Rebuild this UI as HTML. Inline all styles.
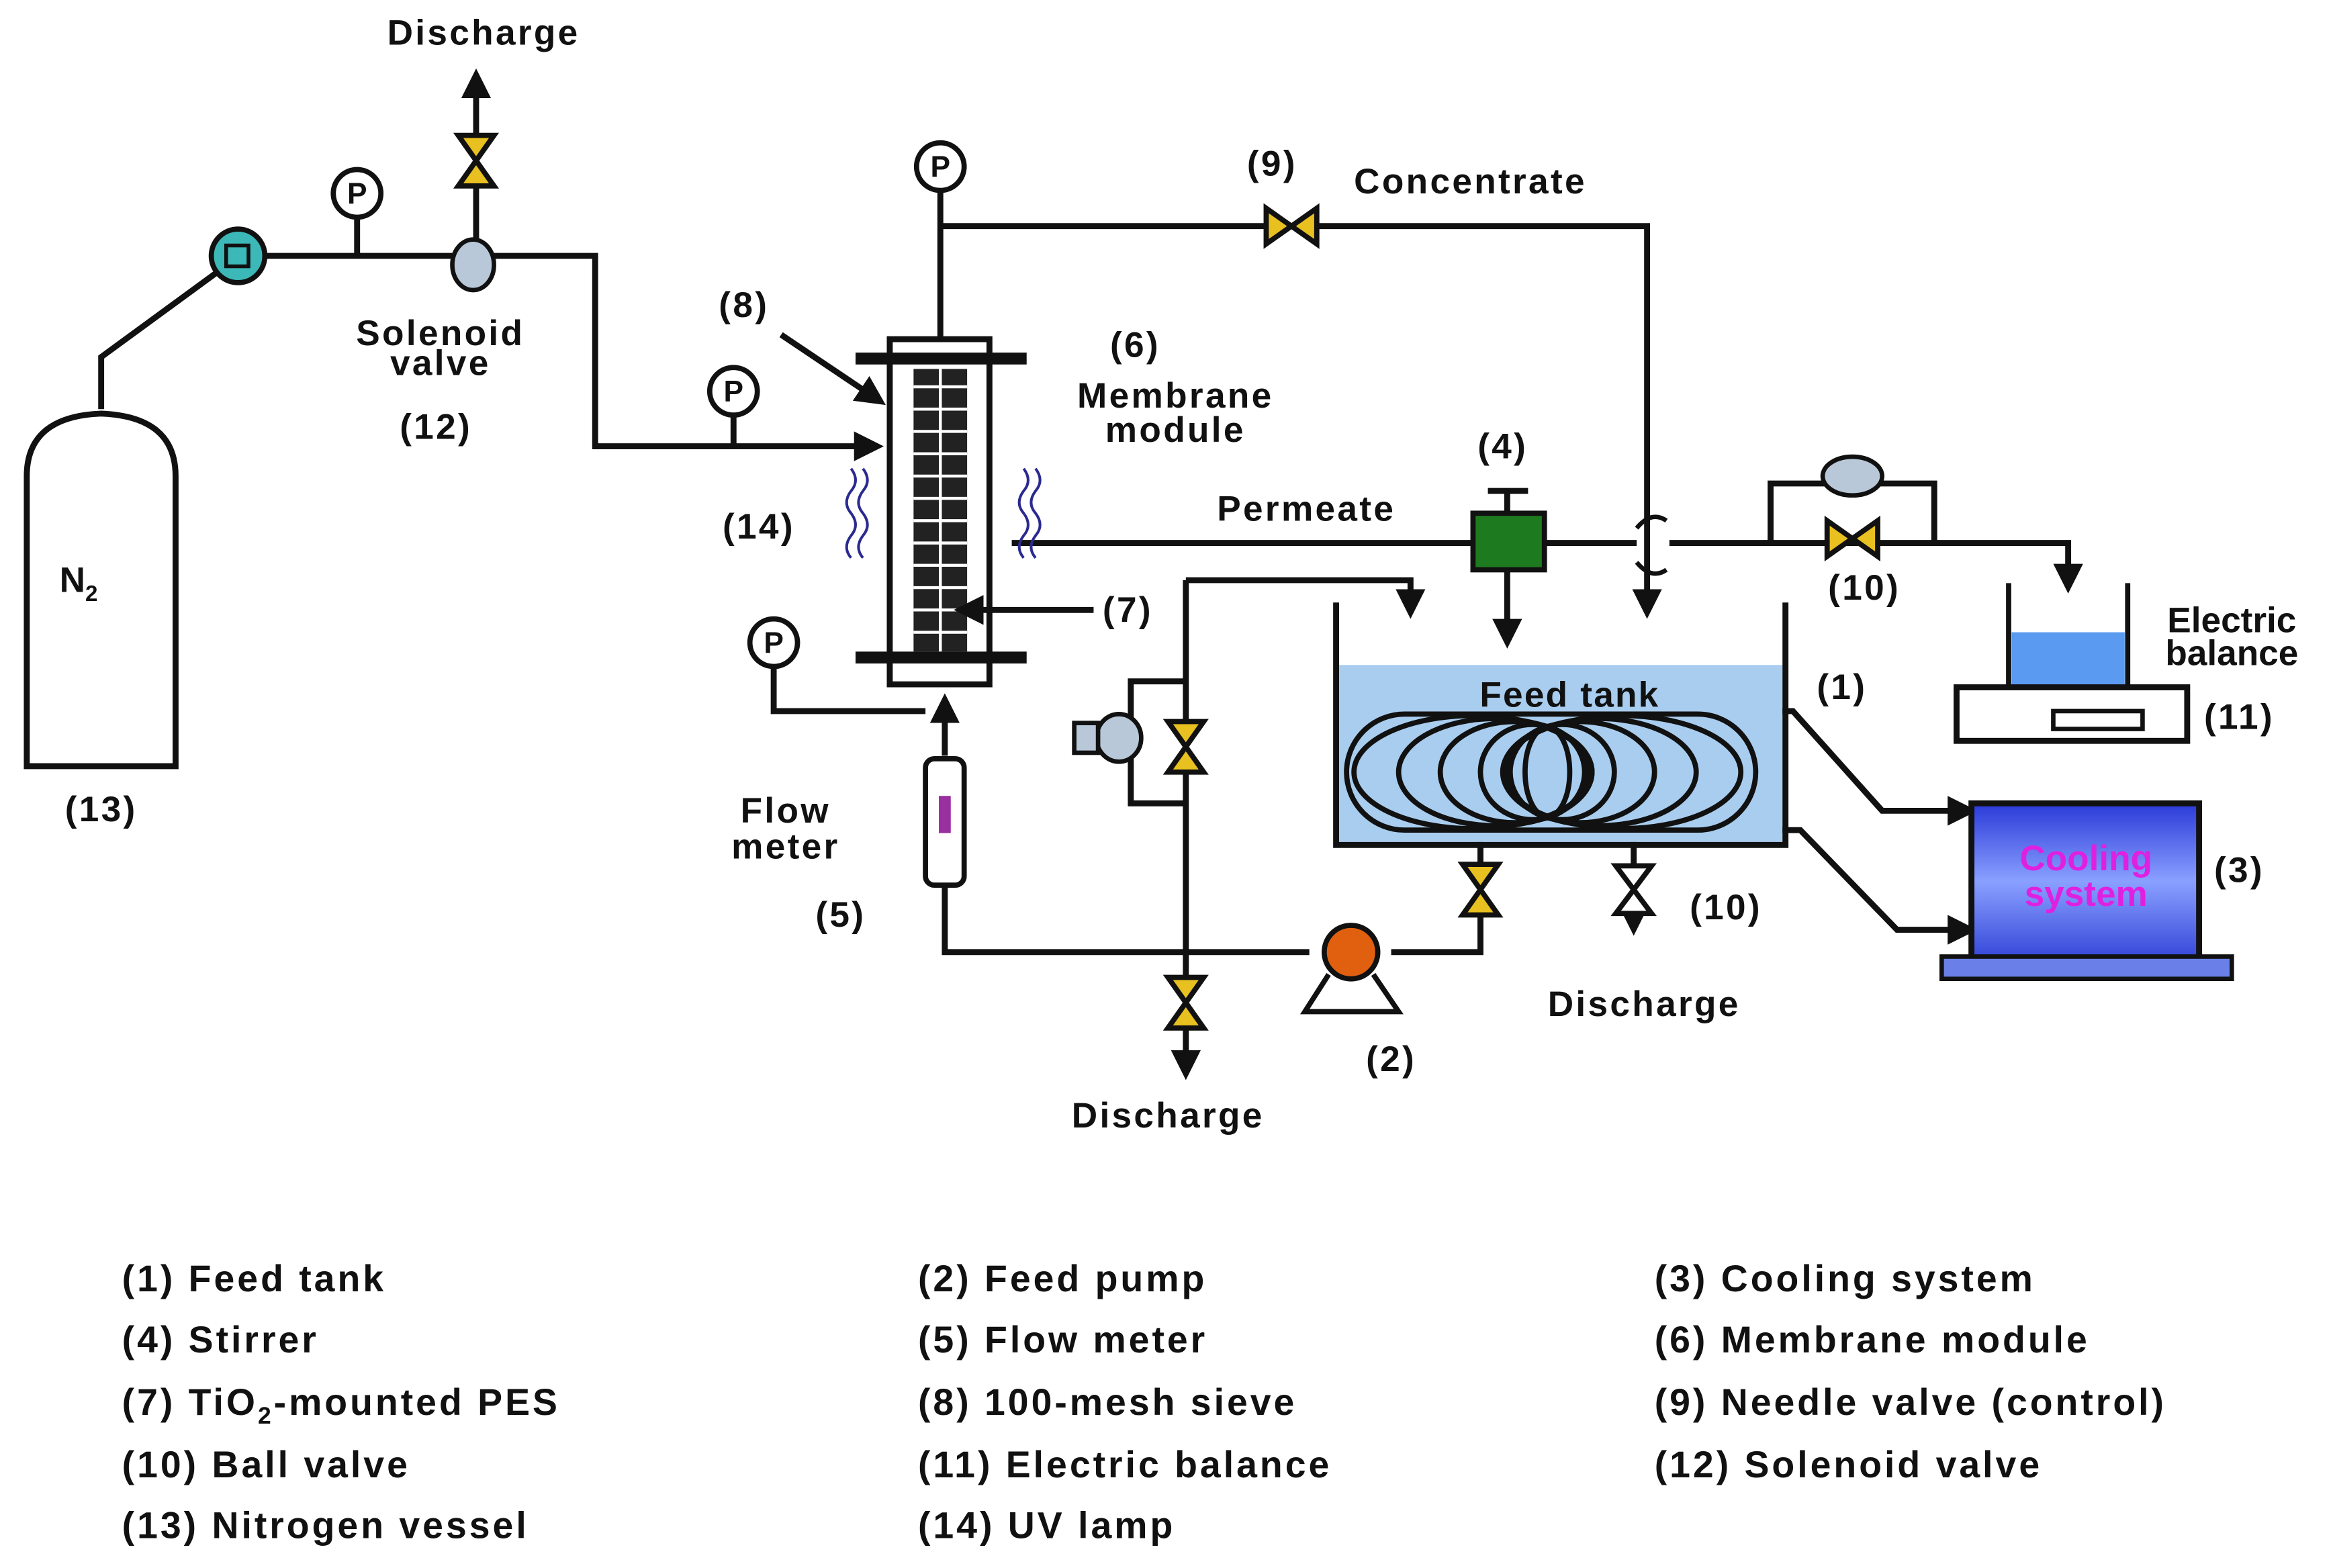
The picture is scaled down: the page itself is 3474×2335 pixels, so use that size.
<!DOCTYPE html>
<html><head><meta charset="utf-8"><style>
html,body{margin:0;padding:0;background:#fff}
svg{display:block}
text{font-family:"Liberation Sans",sans-serif;font-weight:bold;fill:#111}
</style></head><body>
<svg width="3474" height="2335" viewBox="0 0 1568 1054" preserveAspectRatio="none" xmlns="http://www.w3.org/2000/svg">
<defs>
<marker id="ah" viewBox="0 0 10 10" refX="8" refY="5" markerWidth="5" markerHeight="5" orient="auto"><path d="M0,0 L10,5 L0,10 z" fill="#111"/></marker>
<linearGradient id="cg" x1="0" y1="0" x2="0" y2="1"><stop offset="0" stop-color="#2a3ad8"/><stop offset="0.5" stop-color="#8aa0ff"/><stop offset="1" stop-color="#3446d8"/></linearGradient>
<g id="vv"><path d="M-12,-17 L12,-17 L0,0 Z M-12,17 L12,17 L0,0 Z" fill="#e8c020" stroke="#111" stroke-width="3.5"/></g>
<g id="vh"><path d="M-17,-12 L-17,12 L0,0 Z M17,-12 L17,12 L0,0 Z" fill="#e8c020" stroke="#111" stroke-width="3.5"/></g>
<g id="pg"><circle r="16" fill="#fff" stroke="#111" stroke-width="3.5"/><text x="0" y="7" font-size="20" text-anchor="middle" font-weight="normal">P</text></g>
</defs>
<g fill="none" stroke="#111" stroke-width="4">
<path d="M68,275 L68,240 L150,180"/>
<path d="M178,172 L400,172 L400,300 L590,300" marker-end="url(#ah)"/>
<path d="M240,146 L240,172 M493,279 L493,300"/>
<path d="M320,160 L320,50" marker-end="url(#ah)"/>
<path d="M632,128 L632,228 M632,152 L1107,152 L1107,412" marker-end="url(#ah)"/>
<path d="M680,365 L1100,365 M1122,365 L1390,365 L1390,395" marker-end="url(#ah)"/>
<path d="M1013,383 L1013,432" marker-end="url(#ah)"/>
<path d="M1013,345 L1013,330 M1000,330 L1027,330"/>
<path d="M1190,365 L1190,325 L1300,325 L1300,365"/>
<path d="M525,225 L592,270" marker-end="url(#ah)"/>
<path d="M520,448 L520,478 L622,478"/>
<path d="M635,508 L635,470" marker-end="url(#ah)"/>
<path d="M635,595 L635,640 L880,640 M935,640 L995,640 L995,565"/>
<path d="M797,390 L948,390 L948,412" marker-end="url(#ah)"/>
<path d="M797,390 L797,722" marker-end="url(#ah)"/>
<path d="M797,458 L760,458 L760,540 L797,540"/>
<path d="M1098,565 L1098,625" marker-end="url(#ah)"/>
<path d="M1180,478 L1205,478 L1265,545 L1325,545" marker-end="url(#ah)"/>
<path d="M1180,558 L1210,558 L1275,625 L1325,625" marker-end="url(#ah)"/>
</g>
<rect x="900" y="447" width="298" height="119" fill="#a9cdef"/>
<path d="M898,405 L898,568 L1200,568 L1200,405" fill="none" stroke="#111" stroke-width="4"/>
<g fill="none" stroke="#111" stroke-width="3.5">
<rect x="905" y="480" width="275" height="78" rx="39"/>
<ellipse cx="990" cy="519" rx="80" ry="38"/><ellipse cx="1005" cy="519" rx="65" ry="36"/><ellipse cx="1018" cy="519" rx="50" ry="34"/><ellipse cx="1030" cy="519" rx="35" ry="32"/>
<ellipse cx="1090" cy="519" rx="80" ry="38"/><ellipse cx="1075" cy="519" rx="65" ry="36"/><ellipse cx="1062" cy="519" rx="50" ry="34"/><ellipse cx="1050" cy="519" rx="35" ry="32"/>
<ellipse cx="1040" cy="519" rx="15" ry="30"/>
</g>
<text x="1055" y="475" font-size="24" text-anchor="middle" letter-spacing="1">Feed tank</text>
<path d="M18,515 L18,320 Q18,280 68,278 Q118,280 118,320 L118,515 Z" fill="#fff" stroke="#111" stroke-width="4"/>
<text x="40" y="398" font-size="24">N<tspan font-size="15" dy="6">2</tspan></text>
<circle cx="160" cy="172" r="18" fill="#3cb8b8" stroke="#111" stroke-width="3.5"/>
<rect x="152" y="165" width="15" height="14" fill="#3cb8b8" stroke="#111" stroke-width="2.5"/>
<use href="#pg" x="240" y="130"/><use href="#pg" x="493" y="263"/><use href="#pg" x="632" y="112"/><use href="#pg" x="520" y="432"/>
<use href="#vv" x="320" y="108"/>
<ellipse cx="318" cy="178" rx="14" ry="17" fill="#b8c8d8" stroke="#111" stroke-width="3"/>
<rect x="598" y="228" width="67" height="232" fill="#fff" stroke="#111" stroke-width="4"/>
<rect x="614" y="248" width="36" height="190" fill="#222"/>
<g stroke="#fff" stroke-width="2">
<path d="M614,260 H650 M614,275 H650 M614,290 H650 M614,305 H650 M614,320 H650 M614,335 H650 M614,350 H650 M614,365 H650 M614,380 H650 M614,395 H650 M614,410 H650 M614,425 H650 M632,248 V438"/>
</g>
<rect x="575" y="237" width="115" height="8" fill="#111"/>
<rect x="575" y="438" width="115" height="8" fill="#111"/>
<path d="M735,410 L645,410" fill="none" stroke="#111" stroke-width="4" marker-end="url(#ah)"/>
<g fill="none" stroke="#2a2a90" stroke-width="1.8">
<path d="M572,315 q6,8 0,15 q-6,8 0,15 q6,8 0,15 q-6,8 0,15"/><path d="M580,315 q6,8 0,15 q-6,8 0,15 q6,8 0,15 q-6,8 0,15"/>
<path d="M688,315 q6,8 0,15 q-6,8 0,15 q6,8 0,15 q-6,8 0,15"/><path d="M696,315 q6,8 0,15 q-6,8 0,15 q6,8 0,15 q-6,8 0,15"/>
</g>
<use href="#vh" x="868" y="152"/>
<rect x="990" y="345" width="48" height="38" fill="#1e7a1e" stroke="#111" stroke-width="3.5"/>
<path d="M1100,355 q10,-12 20,-5 M1100,378 q10,12 20,5" fill="none" stroke="#111" stroke-width="3"/>
<use href="#vh" x="1245" y="362"/>
<ellipse cx="1245" cy="320" rx="20" ry="13" fill="#b8c8d8" stroke="#111" stroke-width="3"/>
<rect x="1352" y="425" width="76" height="36" fill="#5a9af0"/>
<path d="M1350,392 L1350,462 L1430,462 L1430,392" fill="none" stroke="#111" stroke-width="3.5"/>
<rect x="1315" y="462" width="155" height="36" fill="#fff" stroke="#111" stroke-width="4"/>
<rect x="1380" y="478" width="60" height="12" fill="#fff" stroke="#111" stroke-width="3"/>
<rect x="1325" y="540" width="153" height="105" fill="url(#cg)" stroke="#111" stroke-width="4"/>
<rect x="1305" y="643" width="195" height="15" fill="#6a80e8" stroke="#111" stroke-width="3"/>
<text x="1402" y="585" font-size="24" text-anchor="middle" style="fill:#e020e0">Cooling</text>
<text x="1402" y="609" font-size="24" text-anchor="middle" style="fill:#e020e0">system</text>
<rect x="622" y="510" width="26" height="85" rx="6" fill="#fff" stroke="#111" stroke-width="3.5"/>
<rect x="631" y="535" width="8" height="25" fill="#9a30a0"/>
<use href="#vv" x="797" y="502"/>
<ellipse cx="752" cy="496" rx="15" ry="16" fill="#b8c8d8" stroke="#111" stroke-width="3"/>
<rect x="722" y="486" width="16" height="20" fill="#b8c8d8" stroke="#111" stroke-width="3"/>
<use href="#vv" x="797" y="674"/>
<use href="#vv" x="995" y="598"/>
<path d="M1086,582 L1110,582 L1098,598 Z M1086,614 L1110,614 L1098,598 Z" fill="#fff" stroke="#111" stroke-width="3.5"/>
<path d="M893,655 L877,680 L940,680 L923,655" fill="#fff" stroke="#111" stroke-width="3.5"/>
<circle cx="908" cy="640" r="18" fill="#e06010" stroke="#111" stroke-width="3.5"/>
<g font-size="24" letter-spacing="1.5">
<text x="325" y="30" text-anchor="middle">Discharge</text>
<text x="296" y="232" text-anchor="middle">Solenoid</text>
<text x="296" y="252" text-anchor="middle">valve</text>
<text x="293" y="295" text-anchor="middle">(12)</text>
<text x="68" y="552" text-anchor="middle">(13)</text>
<text x="500" y="213" text-anchor="middle">(8)</text>
<text x="763" y="240" text-anchor="middle">(6)</text>
<text x="790" y="274" text-anchor="middle">Membrane</text>
<text x="790" y="297" text-anchor="middle">module</text>
<text x="510" y="362" text-anchor="middle">(14)</text>
<text x="855" y="118" text-anchor="middle">(9)</text>
<text x="910" y="130">Concentrate</text>
<text x="878" y="350" text-anchor="middle">Permeate</text>
<text x="1010" y="308" text-anchor="middle">(4)</text>
<text x="1253" y="403" text-anchor="middle">(10)</text>
<text x="1500" y="425" text-anchor="middle" letter-spacing="0">Electric</text>
<text x="1500" y="447" text-anchor="middle" letter-spacing="0">balance</text>
<text x="1505" y="490" text-anchor="middle">(11)</text>
<text x="1238" y="470" text-anchor="middle">(1)</text>
<text x="1505" y="593" text-anchor="middle">(3)</text>
<text x="758" y="418" text-anchor="middle">(7)</text>
<text x="528" y="553" text-anchor="middle">Flow</text>
<text x="528" y="577" text-anchor="middle">meter</text>
<text x="565" y="623" text-anchor="middle">(5)</text>
<text x="935" y="720" text-anchor="middle">(2)</text>
<text x="1160" y="618" text-anchor="middle">(10)</text>
<text x="1105" y="683" text-anchor="middle">Discharge</text>
<text x="785" y="758" text-anchor="middle">Discharge</text>
</g>
<g font-size="25" letter-spacing="1.8">
<text x="82" y="868">(1) Feed tank</text>
<text x="82" y="909">(4) Stirrer</text>
<text x="82" y="951">(7)  TiO<tspan font-size="16" dy="6">2</tspan><tspan dy="-6">-mounted PES</tspan></text>
<text x="82" y="993">(10) Ball valve</text>
<text x="82" y="1034">(13) Nitrogen vessel</text>
<text x="617" y="868">(2) Feed pump</text>
<text x="617" y="909">(5) Flow meter</text>
<text x="617" y="951">(8)  100-mesh sieve</text>
<text x="617" y="993">(11) Electric balance</text>
<text x="617" y="1034">(14) UV lamp</text>
<text x="1112" y="868">(3) Cooling system</text>
<text x="1112" y="909">(6) Membrane module</text>
<text x="1112" y="951">(9) Needle valve (control)</text>
<text x="1112" y="993">(12) Solenoid valve</text>
</g>
</svg>
</body></html>
